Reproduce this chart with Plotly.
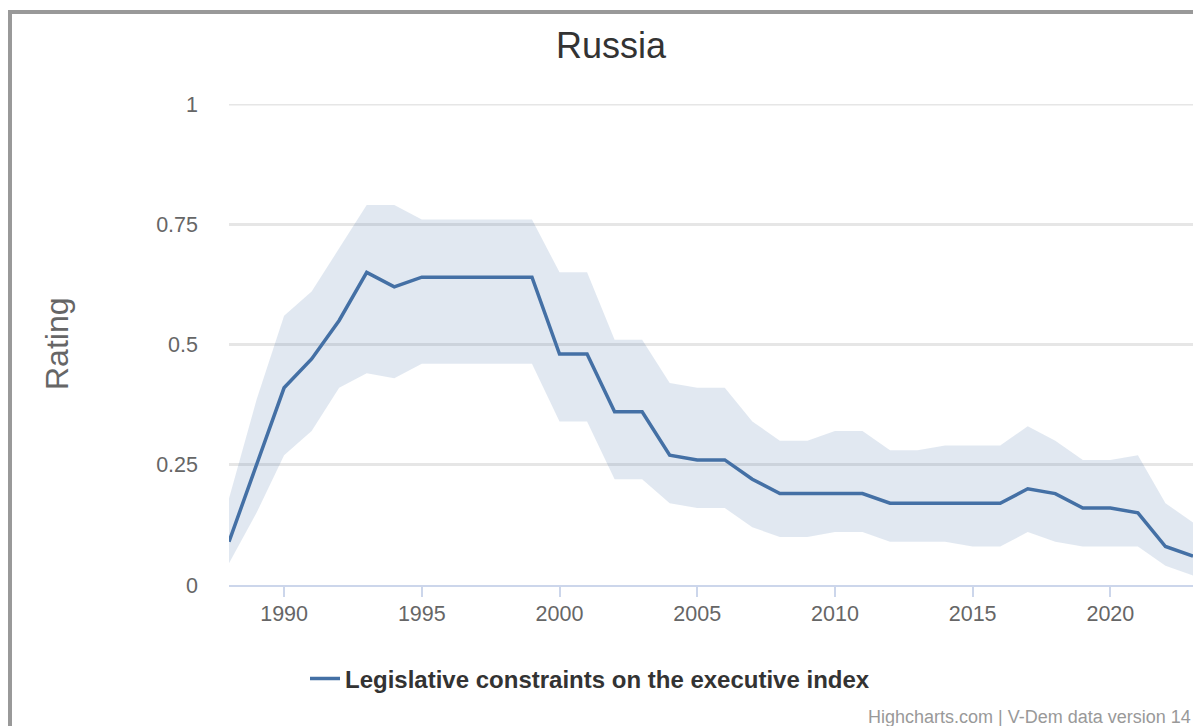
import plotly.graph_objects as go

years = list(range(1988, 2024))
index_values = [0.09, 0.25, 0.41, 0.47, 0.55, 0.65, 0.62, 0.64, 0.64, 0.64, 0.64, 0.64,
                0.48, 0.48, 0.36, 0.36, 0.27, 0.26, 0.26, 0.22, 0.19, 0.19, 0.19, 0.19,
                0.17, 0.17, 0.17, 0.17, 0.17, 0.20, 0.19, 0.16, 0.16, 0.15, 0.08, 0.06]
upper_values = [0.18, 0.385, 0.56, 0.61, 0.70, 0.79, 0.79, 0.76, 0.76, 0.76, 0.76, 0.76,
                0.65, 0.65, 0.51, 0.51, 0.42, 0.41, 0.41, 0.34, 0.30, 0.30, 0.32, 0.32,
                0.28, 0.28, 0.29, 0.29, 0.29, 0.33, 0.30, 0.26, 0.26, 0.27, 0.17, 0.13]
lower_values = [0.045, 0.15, 0.27, 0.32, 0.41, 0.44, 0.43, 0.46, 0.46, 0.46, 0.46, 0.46,
                0.34, 0.34, 0.22, 0.22, 0.17, 0.16, 0.16, 0.12, 0.10, 0.10, 0.11, 0.11,
                0.09, 0.09, 0.09, 0.08, 0.08, 0.11, 0.09, 0.08, 0.08, 0.08, 0.04, 0.02]
y_ticks = [0, 0.25, 0.5, 0.75, 1]
y_tick_labels = ["0", "0.25", "0.5", "0.75", "1"]
x_ticks = [1990, 1995, 2000, 2005, 2010, 2015, 2020]

# The page body has an 8px margin; figure is sized so it ends at the window edge.
OFF = 8
W, H = 1201 - OFF, 726 - OFF
PL, PR, PT, PB = 229, 1193, 104, 585   # plot area in page pixels
L, T = PL - OFF, PT - OFF
R, B = (W + OFF) - PR, (H + OFF) - PB
PW, PH = PR - PL, PB - PT

def px(x):
    return (x - PL) / PW

def py(y):
    return (PB - y) / PH

LINE = "#4470a5"
FONT = "Liberation Sans, Arial, sans-serif"

fig = go.Figure()
fig.add_trace(go.Scatter(x=years, y=lower_values, mode="lines", line=dict(width=0),
                         showlegend=False, hoverinfo="skip"))
fig.add_trace(go.Scatter(x=years, y=upper_values, mode="lines", line=dict(width=0),
                         fill="tonexty", fillcolor="rgba(69,114,167,0.16)",
                         showlegend=False, hoverinfo="skip"))
fig.add_trace(go.Scatter(x=years, y=index_values, mode="lines",
                         line=dict(color=LINE, width=3.5),
                         name="Legislative constraints on the executive index"))

fig.update_layout(
    width=W, height=H,
    margin=dict(l=L, r=R, t=T, b=B),
    paper_bgcolor="white", plot_bgcolor="white",
    font=dict(family=FONT, color="#666666"),
    title=dict(text="Russia", font=dict(size=36, color="#333333", family=FONT),
               x=(611 - OFF) / W, xref="container", xanchor="center",
               y=1 - (45 - OFF) / H, yref="container", yanchor="middle"),
    xaxis=dict(range=[1988, 2023], tickvals=x_ticks, showgrid=False,
               showline=True, linecolor="#ccd6eb", linewidth=2,
               ticks="outside", ticklen=10, tickcolor="#ccd6eb", tickwidth=2,
               ticklabelstandoff=-2,
               tickfont=dict(size=21.5, color="#666666"), zeroline=False),
    yaxis=dict(range=[0, 1], tickvals=y_ticks, ticktext=y_tick_labels,
               showgrid=True, gridcolor="#e6e6e6", gridwidth=3, zeroline=False,
               showline=False, ticks="", ticklabelstandoff=30,
               tickfont=dict(size=21.5, color="#666666")),
    legend=dict(orientation="h", x=px(590), xanchor="center", y=py(679), yanchor="middle",
                font=dict(size=24, color="#333333", family=FONT, weight="bold"),
                bgcolor="rgba(0,0,0,0)"),
    shapes=[
        # top gridline at y = 1 (plotly omits it at the range edge)
        dict(type="line", xref="paper", yref="y", x0=0, x1=1, y0=1, y1=1,
             line=dict(color="#e6e6e6", width=3), layer="below"),
        dict(type="rect", xref="paper", yref="paper", x0=px(8), x1=px(12), y0=py(726), y1=py(10),
             fillcolor="#999999", line=dict(width=0), layer="above"),
        dict(type="rect", xref="paper", yref="paper", x0=px(8), x1=px(1201), y0=py(14), y1=py(10),
             fillcolor="#999999", line=dict(width=0), layer="above"),
    ],
    annotations=[
        dict(text="Rating", xref="paper", yref="paper", x=px(57), xanchor="center",
             y=py(344), yanchor="middle", textangle=-90, showarrow=False,
             font=dict(size=32, color="#666666", family=FONT)),
        dict(text="Highcharts.com | V-Dem data version 14", xref="paper", yref="paper",
             x=1, xanchor="right", y=py(717), yanchor="middle", showarrow=False,
             font=dict(size=18, color="#999999", family=FONT)),
    ],
)

fig.write_html("out.html")
